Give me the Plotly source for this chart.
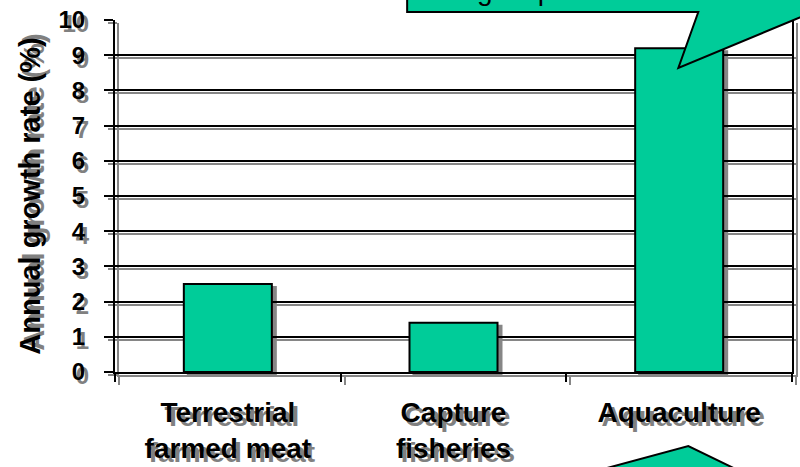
import plotly.graph_objects as go

# ---- data ----
categories = ["Terrestrial<br>farmed meat", "Capture<br>fisheries", "Aquaculture"]
growth = [2.5, 1.4, 9.2]
y_ticks = [0, 1, 2, 3, 4, 5, 6, 7, 8, 9, 10]
y_title = "Annual growth rate (%)"
callout_text = "China is the world's<br>largest producer of fish"

# ---- layout geometry (pixels) ----
W, H = 800, 467
L, R, T, B = 115, 2, 20, 92
pw, ph = W - L - R, H - T - B
SX, SY = 4, 3  # shadow offset in px
dx, dy = SX / pw, SY / ph


def fx(px):
    return (px - L) / pw


def fy(py):
    return (H - B - py) / ph


FONT = "Liberation Sans, Arial, sans-serif"
GREEN = "#00CC99"
SHADOW = "#868686"
TXT_SHADOW = "4px 4px 0px #808080"

fig = go.Figure()

# shadow layer (drawn first, underneath)
fig.add_trace(go.Bar(
    x=categories, y=growth, xaxis="x", yaxis="y", width=0.39,
    marker=dict(color=SHADOW, line=dict(color=SHADOW, width=2)),
    hoverinfo="skip", showlegend=False,
))
# main bars
fig.add_trace(go.Bar(
    x=categories, y=growth, xaxis="x2", yaxis="y2", width=0.39,
    marker=dict(color=GREEN, line=dict(color="black", width=2)),
    showlegend=False,
))

tickfont_y = dict(family=FONT, size=24, color="black", weight=700, shadow=TXT_SHADOW)
tickfont_x = dict(family=FONT, size=28, color="black", weight=700, shadow=TXT_SHADOW)

fig.update_layout(
    width=W, height=H,
    margin=dict(l=L, r=R, t=T, b=B, pad=0),
    paper_bgcolor="white",
    plot_bgcolor="rgba(0,0,0,0)",
    bargap=0.6,
    showlegend=False,
    xaxis=dict(
        domain=[dx, 1], anchor="y", type="category", range=[-0.5, 2.5],
        showline=True, linecolor=SHADOW, linewidth=2,
        ticks="outside", tickson="boundaries", ticklen=8, tickwidth=2, tickcolor=SHADOW,
        showticklabels=False, showgrid=False, fixedrange=True,
    ),
    yaxis=dict(
        domain=[0, 1 - dy], anchor="x", range=[0, 10], tickvals=y_ticks,
        showline=True, mirror=True, linecolor=SHADOW, linewidth=2,
        ticks="outside", ticklen=9, tickwidth=2, tickcolor=SHADOW,
        showticklabels=False, showgrid=True, gridcolor=SHADOW, gridwidth=2,
        zeroline=False, fixedrange=True,
    ),
    xaxis2=dict(
        domain=[0, 1 - dx], anchor="y2", type="category", range=[-0.5, 2.5],
        showline=True, linecolor="black", linewidth=2,
        ticks="outside", tickson="boundaries", ticklen=8, tickwidth=2, tickcolor="black",
        tickfont=tickfont_x, ticklabelstandoff=14, showgrid=False, fixedrange=True,
    ),
    yaxis2=dict(
        domain=[dy, 1], anchor="x2", range=[0, 10], tickvals=y_ticks,
        showline=True, mirror=True, linecolor="black", linewidth=2,
        ticks="outside", ticklen=9, tickwidth=2, tickcolor="black",
        tickfont=tickfont_y, ticklabelstandoff=14,
        showgrid=True, gridcolor="black", gridwidth=2, zeroline=False,
        title=dict(text=y_title, standoff=9,
                   font=dict(family=FONT, size=29, color="black", weight=700, shadow=TXT_SHADOW)),
        fixedrange=True,
    ),
)

# top callout box with pointer
top_pts = [(408, -120), (408, 12), (700, 12), (680, 68), (815, 12), (900, 12), (900, -120)]
top_path = "M " + " L ".join(f"{fx(x):.5f},{fy(y):.5f}" for x, y in top_pts) + " Z"
fig.add_shape(type="path", path=top_path, xref="paper", yref="paper",
              fillcolor=GREEN, line=dict(color="black", width=2), layer="above")

# bottom callout pointer
bot_pts = [(564, 480), (690, 446), (760, 480)]
bot_path = "M " + " L ".join(f"{fx(x):.5f},{fy(y):.5f}" for x, y in bot_pts) + " Z"
fig.add_shape(type="path", path=bot_path, xref="paper", yref="paper",
              fillcolor=GREEN, line=dict(color="black", width=2), layer="above")

fig.add_annotation(
    text=callout_text, xref="paper", yref="paper",
    x=fx(445), y=fy(8), xanchor="left", yanchor="bottom", align="left",
    showarrow=False, font=dict(family=FONT, size=28, color="black"),
)

fig.write_html("out.html")
